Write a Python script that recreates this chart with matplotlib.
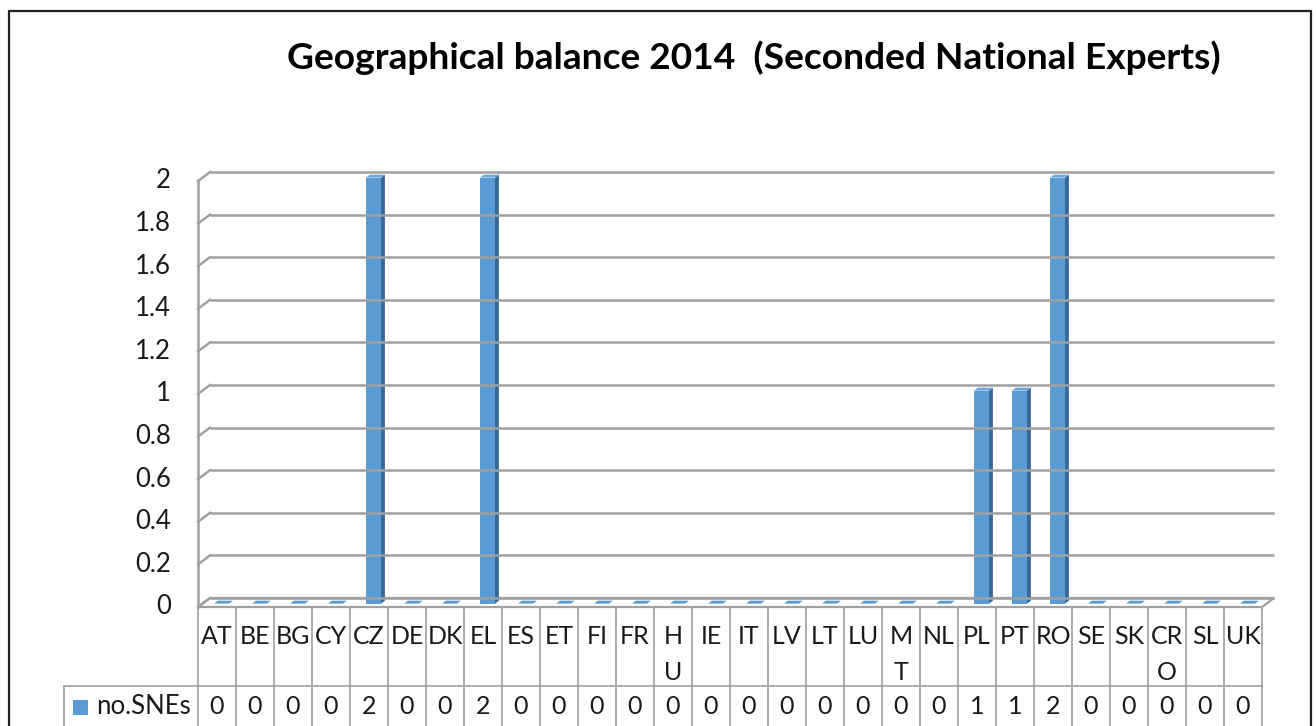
import numpy as np
import matplotlib
matplotlib.use("Agg")
import matplotlib.pyplot as plt
from matplotlib.patches import Polygon, Rectangle
from matplotlib.transforms import blended_transform_factory

plt.rcParams['font.family'] = ['Lato', 'DejaVu Sans']

countries = ['AT', 'BE', 'BG', 'CY', 'CZ', 'DE', 'DK', 'EL', 'ES', 'ET', 'FI', 'FR', 'HU', 'IE',
             'IT', 'LV', 'LT', 'LU', 'MT', 'NL', 'PL', 'PT', 'RO', 'SE', 'SK', 'CRO', 'SL', 'UK']
# labels as wrapped in the table
col_labels = ['AT', 'BE', 'BG', 'CY', 'CZ', 'DE', 'DK', 'EL', 'ES', 'ET', 'FI', 'FR', 'H\nU', 'IE',
              'IT', 'LV', 'LT', 'LU', 'M\nT', 'NL', 'PL', 'PT', 'RO', 'SE', 'SK', 'CR\nO', 'SL', 'UK']
sne = [0, 0, 0, 0, 2, 0, 0, 2, 0, 0, 0, 0, 0, 0, 0, 0, 0, 0, 0, 0, 1, 1, 2, 0, 0, 0, 0, 0]
yticks = [0, 0.2, 0.4, 0.6, 0.8, 1, 1.2, 1.4, 1.6, 1.8, 2]
ytick_labels = ['0', '0.2', '0.4', '0.6', '0.8', '1', '1.2', '1.4', '1.6', '1.8', '2']
series_name = 'no.SNEs'
title = 'Geographical balance 2014  (Seconded National Experts)'

W, H = 1316, 726
fig = plt.figure(figsize=(W / 100, H / 100), dpi=100)

# front plane of the 3d box, in pixels
x0, x1 = 198, 1262
y_zero, y_top = 607, 181
ax = fig.add_axes([x0 / W, 1 - y_zero / H, (x1 - x0) / W, (y_zero - y_top) / H])
n = len(countries)
ax.set_xlim(0, n)
ax.set_ylim(0, 2)
ax.axis('off')

ppx = (x1 - x0) / n          # pixels per category
ppy = (y_zero - y_top) / 2   # pixels per unit
DX, DY = 12, 9               # depth of box in pixels

def sh(x, y, d):
    # shift point back by fraction d of the depth
    return (x + d * DX / ppx, y + d * DY / ppy)

grid_c = '#a0a0a0'
# back wall gridlines + side wall diagonals
for v in yticks:
    a = sh(0, v, 1)
    b = sh(n, v, 1)
    ax.plot([a[0], b[0]], [a[1], b[1]], color=grid_c, lw=1.8, clip_on=False, solid_capstyle='butt')
    ax.plot([0, a[0]], [v, a[1]], color=grid_c, lw=1.8, clip_on=False)
# front left edge
ax.plot([0, 0], [0, 2], color=grid_c, lw=1.8, clip_on=False)
# floor
floor = [(0, 0), (n, 0), sh(n, 0, 1), sh(0, 0, 1)]
ax.add_patch(Polygon(floor, closed=True, fc='white', ec=grid_c, lw=1.6, clip_on=False))

# 3d columns
c_front, c_side, c_top = '#5b9bd5', '#3a6896', '#6aa6dc'
bw = 15 / ppx
d0, d1 = 0.375, 0.70
xs = np.arange(n) + 0.5
for x, v in zip(xs, sne):
    xl, xr = x - bw / 2, x + bw / 2
    fl, fr = sh(xl, 0, d0), sh(xr, 0, d0)
    ft_l, ft_r = sh(xl, v, d0), sh(xr, v, d0)
    bt_l, bt_r = sh(xl, v, d1), sh(xr, v, d1)
    br = sh(xr, 0, d1)
    if v > 0:
        ax.add_patch(Polygon([fr, br, bt_r, ft_r], closed=True, fc=c_side, ec='none', clip_on=False))
        ax.add_patch(Polygon([fl, fr, ft_r, ft_l], closed=True, fc=c_front, ec='none', clip_on=False))
    ax.add_patch(Polygon([ft_l, ft_r, bt_r, bt_l], closed=True, fc=c_top if v > 0 else c_front,
                         ec='none', clip_on=False))

# y tick labels
ty = blended_transform_factory(fig.transFigure, ax.transData)
for v, s in zip(yticks, ytick_labels):
    ax.text(171 / W, v, s, transform=ty, ha='right', va='center', fontsize=18.5, color='#1a1a1a')

# data table
tx = blended_transform_factory(ax.transData, fig.transFigure)
fy = lambda p: 1 - p / H
tab_c = '#a6a6a6'
for i in range(n + 1):
    ax.plot([i, i], [fy(y_zero), fy(H + 2)], transform=tx, color=tab_c, lw=1.3, clip_on=False)
ax.plot([64 / W, x1 / W], [fy(686), fy(686)], transform=fig.transFigure, color=tab_c, lw=1.3,
        clip_on=False)
ax.plot([64 / W, 64 / W], [fy(686), fy(H + 2)], transform=fig.transFigure, color=tab_c, lw=1.3,
        clip_on=False)
for x, lab, v in zip(xs, col_labels, sne):
    ax.text(x, fy(625), lab, transform=tx, ha='center', va='top', fontsize=18,
            linespacing=1.68, color='#1a1a1a')
    ax.text(x, fy(707), str(v), transform=tx, ha='center', va='center', fontsize=18, color='#1a1a1a')
fig.add_artist(Rectangle((73 / W, fy(715)), 15 / W, 15 / H, transform=fig.transFigure,
                         fc=c_front, ec='none'))
fig.text(96 / W, fy(707), series_name, ha='left', va='center', fontsize=18.5, color='#1a1a1a')

# title
fig.text(754 / W, fy(58), title, ha='center', va='center', fontsize=26.7, fontweight='bold', color='black')

# outer frame
fig.add_artist(plt.Line2D([9 / W, 9 / W, 1311 / W, 1311 / W], [0, fy(11), fy(11), 0],
                          transform=fig.transFigure, color='#222222', lw=1.6))

fig.savefig('out.png', dpi=100)
